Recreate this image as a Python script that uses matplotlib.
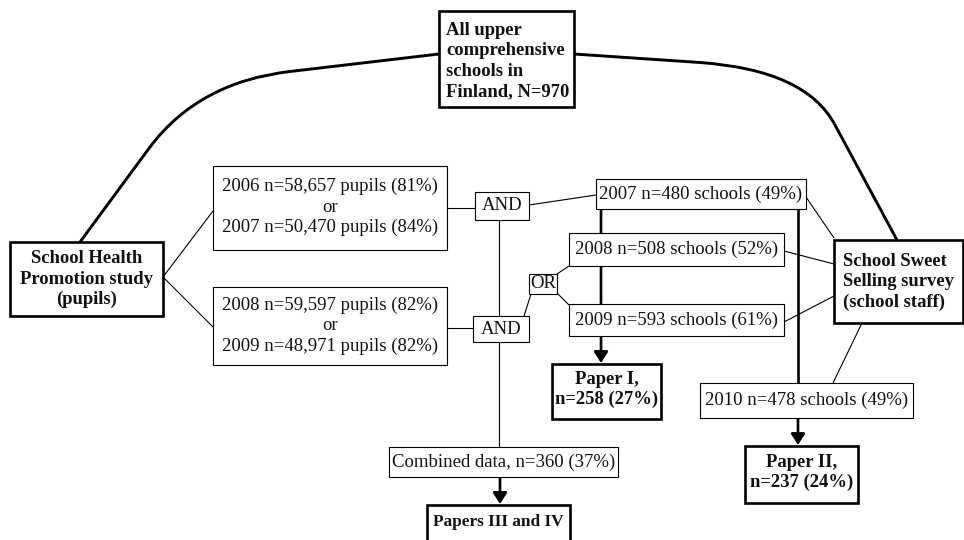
import matplotlib
matplotlib.use("Agg")
import matplotlib.pyplot as plt
from matplotlib.patches import Rectangle, PathPatch
from matplotlib.path import Path

# box texts
top_txt = ["All upper", "comprehensive", "schools in", "Finland, N=970"]
shp_txt = ["School Health", "Promotion study", "(pupils)"]
sss_txt = ["School Sweet", "Selling survey", "(school staff)"]
pupils_a = ["2006 n=58,657 pupils (81%)", "or", "2007 n=50,470 pupils (84%)"]
pupils_b = ["2008 n=59,597 pupils (82%)", "or", "2009 n=48,971 pupils (82%)"]
schools_2007 = ["2007 n=480 schools (49%)"]
schools_2008 = ["2008 n=508 schools (52%)"]
schools_2009 = ["2009 n=593 schools (61%)"]
schools_2010 = ["2010 n=478 schools (49%)"]
combined_txt = ["Combined data, n=360 (37%)"]
paper1_txt = ["Paper I,", "n=258 (27%)"]
paper2_txt = ["Paper II,", "n=237 (24%)"]
paper34_txt = ["Papers III and IV"]

SERIF = "Liberation Serif"
PITCH = 20.5
THICK = 1.9
THIN = 0.8

fig = plt.figure(figsize=(9.64, 5.4), dpi=100)
ax = fig.add_axes([0, 0, 1, 1])
ax.set_xlim(0, 964)
ax.set_ylim(540, 0)
ax.axis("off")


def box(x0, y0, x1, y1, lines, bold=False, thick=False, left=None, dy=0,
        size=None, ty=None):
    ax.add_patch(Rectangle((x0, y0), x1 - x0, y1 - y0, facecolor="white",
                           edgecolor="black", lw=THICK if thick else THIN, zorder=2))
    cy = (y0 + y1) / 2 + dy if ty is None else ty
    if size is None:
        size = 13.4 if bold else 13.5
    n = len(lines)
    for i, s in enumerate(lines):
        y = cy + (i - (n - 1) / 2) * PITCH
        ax.text(left if left is not None else (x0 + x1) / 2, y, s,
                ha="left" if left is not None else "center", va="center",
                family=SERIF, fontsize=size,
                fontweight="bold" if bold else "normal", color="#111111", zorder=3)


def line(xs, ys, lw=THIN):
    ax.plot(xs, ys, color="black", lw=lw, zorder=1, solid_capstyle="butt")


def arrow(x, y0, y1):
    ax.annotate("", xy=(x, y1), xytext=(x, y0),
                arrowprops=dict(arrowstyle="-|>,head_length=0.55,head_width=0.35",
                                lw=THICK, color="black", shrinkA=0, shrinkB=0,
                                mutation_scale=12), zorder=1)


# curved links from the top box
left_curve = Path([(439, 54), (290, 71.5), (199, 82), (150, 147), (80, 242)],
                  [Path.MOVETO, Path.LINETO, Path.CURVE3, Path.CURVE3, Path.LINETO])
right_curve = Path([(574, 54), (700, 62.5), (806, 70), (835, 125), (897, 240)],
                   [Path.MOVETO, Path.LINETO, Path.CURVE3, Path.CURVE3, Path.LINETO])
for p in (left_curve, right_curve):
    ax.add_patch(PathPatch(p, facecolor="none", edgecolor="black", lw=2.1, zorder=1))

# thin connectors
line([163, 213], [277, 211])
line([163, 213], [277, 327])
line([447, 475], [208, 208])
line([447, 473], [328, 328])
line([529, 596], [205, 195])
line([499, 499], [220, 447])
line([524, 531], [316, 294])
line([557, 569], [274, 266])
line([557, 569], [293, 305])
line([806, 834], [197, 238])
line([784, 834], [251, 264])
line([784, 834], [322, 296])
line([862, 833], [323, 383])

# thick paths and arrows
line([798, 798], [209, 383], lw=THICK)
arrow(601, 209, 363)
arrow(798, 418, 445)
arrow(500, 477, 504)

# boxes
box(439, 11, 574, 107, top_txt, bold=True, thick=True, left=446, dy=2)
box(10, 242, 163, 316, shp_txt, bold=True, thick=True)
box(834, 240, 963, 323, sss_txt, bold=True, thick=True, left=843)
box(213, 166, 447, 250, pupils_a, dy=-1)
box(213, 287, 447, 365, pupils_b)
box(475, 192, 529, 220, ["AND"])
box(473, 316, 529, 342, ["AND"])
box(529, 274, 557, 294, ["OR"])
box(596, 179, 806, 209, schools_2007)
box(569, 233, 784, 266, schools_2008)
box(569, 304, 784, 336, schools_2009)
box(700, 383, 913, 418, schools_2010)
box(389, 447, 618, 477, combined_txt)
box(552, 364, 661, 419, paper1_txt, bold=True, thick=True, dy=-2)
box(745, 446, 858, 503, paper2_txt, bold=True, thick=True, dy=-2)
box(427, 505, 570, 560, paper34_txt, bold=True, thick=True, size=12.4, ty=522)

fig.savefig("out.png", dpi=100)
